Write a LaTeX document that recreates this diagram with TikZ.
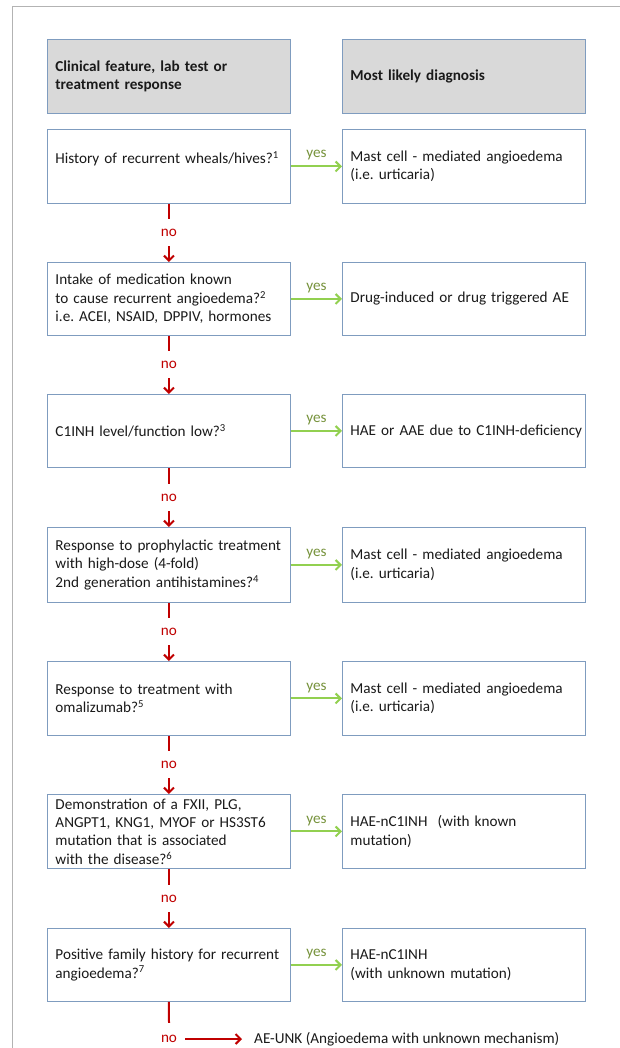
\documentclass[tikz,border=0pt]{standalone}
\usepackage{fontspec}
\setmainfont{Carlito}
\usetikzlibrary{arrows.meta,calc}
\definecolor{boxline}{HTML}{7F9CBF}
\definecolor{hdrfill}{HTML}{D9D9D9}
\definecolor{nored}{HTML}{C00000}
\definecolor{yesgreen}{HTML}{92D050}
\definecolor{yestext}{HTML}{77933C}
\definecolor{framegray}{HTML}{B3B3B3}
\definecolor{maintext}{HTML}{1A1A1A}
\frenchspacing
\begin{document}
\begin{tikzpicture}[x=1pt,y=-1pt,
  every node/.style={font=\fontsize{15.2}{18.4}\selectfont\frenchspacing, text=maintext},
  box/.style={draw=boxline, line width=0.9pt, anchor=north west, minimum width=243pt,
    text width=227pt, inner xsep=8pt, inner ysep=0pt, align=left},
  hdr/.style={box, fill=hdrfill, font=\fontsize{15.2}{18.4}\selectfont\bfseries},
  noarrow/.style={draw=nored, line width=2pt, -{Straight Barb[length=5pt,width=10pt,line width=2pt]}},
  nolabel/.style={fill=white, text=nored, inner xsep=3pt, inner ysep=0pt, minimum height=27pt},
  yesarrow/.style={draw=yesgreen, line width=2pt, -{Straight Barb[length=5pt,width=10pt,line width=2pt]}},
  yeslabel/.style={text=yestext, inner sep=0pt, above=5pt}
]
\useasboundingbox (0,0) rectangle (620,1048);
\fill[white] (0,0) rectangle (620,1048);
\draw[framegray, line width=1pt] (620,7) -- (12,7) -- (12,1048);

% headers
\node[hdr, minimum height=74pt] (H1) at (47,39) {Clinical feature, lab test or\\treatment response};
\node[hdr, minimum height=74pt] (H2) at (342,39) {Most likely diagnosis};

% rows
\node[box, minimum height=74pt] (L1) at (47,129) {History of recurrent wheals/hives?\textsuperscript{1}\\\mbox{}};
\node[box, minimum height=74pt] (R1) at (342,129) {Mast cell - mediated angioedema\\(i.e. urticaria)};

\node[box, minimum height=73pt] (L2) at (47,262) {Intake of medication known\\to cause recurrent angioedema?\textsuperscript{2}\\\mbox{i.e. ACEI, NSAID, DPPIV, hormones}};
\node[box, minimum height=73pt] (R2) at (342,262) {Drug-induced or drug triggered AE};

\node[box, minimum height=73pt] (L3) at (47,394) {C1INH level/function low?\textsuperscript{3}};
\node[box, minimum height=73pt] (R3) at (342,394) {\mbox{HAE or AAE due to C1INH-deficiency}};

\node[box, minimum height=75pt] (L4) at (47,527) {\mbox{Response to prophylactic treatment}\\with high-dose (4-fold)\\2nd generation antihistamines?\textsuperscript{4}};
\node[box, minimum height=75pt] (R4) at (342,527) {Mast cell - mediated angioedema\\(i.e. urticaria)};

\node[box, minimum height=74pt] (L5) at (47,661) {Response to treatment with\\omalizumab?\textsuperscript{5}};
\node[box, minimum height=74pt] (R5) at (342,661) {Mast cell - mediated angioedema\\(i.e. urticaria)};

\node[box, minimum height=74pt] (L6) at (47,794) {Demonstration of a FXII, PLG,\\ANGPT1, KNG1, MYOF or HS3ST6\\mutation that is associated\\with the disease?\textsuperscript{6}};
\node[box, minimum height=74pt] (R6) at (342,794) {HAE-nC1INH~ (with known\\mutation)};

\node[box, minimum height=73pt] (L7) at (47,928) {\mbox{Positive family history for recurrent}\\angioedema?\textsuperscript{7}};
\node[box, minimum height=73pt] (R7) at (342,928) {HAE-nC1INH\\(with unknown mutation)};

% yes arrows
\foreach \i in {1,...,7}{
  \draw[yesarrow] (L\i.east) -- node[yeslabel]{yes} (R\i.west);
}
% no arrows
\foreach \i/\j in {1/2,2/3,3/4,4/5,5/6,6/7}{
  \draw[noarrow] (L\i.south) -- node[nolabel]{no} (L\j.north);
}
% final
\node[text=nored, inner xsep=8pt, inner ysep=0pt, minimum height=32pt] (N8) at (169,1039) {no};
\node[anchor=west, inner xsep=12pt, inner ysep=0pt] (AE) at (242,1039) {AE-UNK (Angioedema with unknown mechanism)};
\draw[draw=nored, line width=2pt] (L7.south) -- (N8.north);
\draw[noarrow] (N8.east) -- (AE.west);
\end{tikzpicture}
\end{document}
